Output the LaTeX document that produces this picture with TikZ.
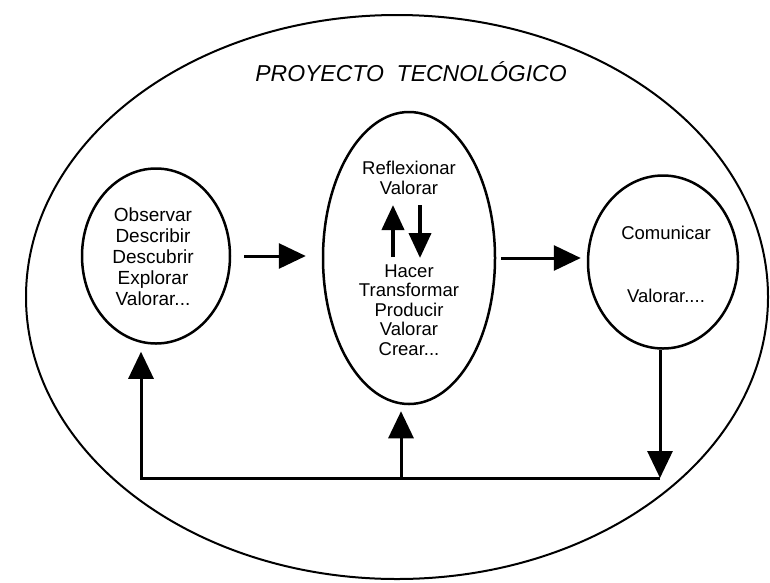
\documentclass[tikz,border=0pt]{standalone}
\usepackage{fontspec}
\setmainfont{Liberation Sans}
\usetikzlibrary{shapes.geometric,arrows.meta}
\begin{document}
\begin{tikzpicture}[x=1pt,y=-1pt,
  bubble/.style={draw, line width=2.5pt, ellipse, inner sep=0pt},
  frame/.style={draw, line width=2pt, ellipse, inner sep=0pt},
  words/.style={align=center, font=\fontsize{18.5}{21}\selectfont, inner sep=0pt},
  leftwords/.style={align=center, font=\fontsize{19}{21}\selectfont, inner sep=0pt},
  midwords/.style={align=center, font=\fontsize{18.5}{19.5}\selectfont, inner sep=0pt},
  title/.style={font=\fontsize{23}{27}\selectfont\itshape, inner sep=0pt},
  flow/.style={line width=3pt, line join=miter, -{Triangle[length=27pt,width=25pt]}},
  swap/.style={line width=4pt, -{Triangle[length=25pt,width=22pt]}},
  link/.style={line width=3pt}]
\useasboundingbox (0,0) rectangle (770,582);
\node[frame, minimum width=742pt, minimum height=564pt] (outer) at (397,297) {};
\node[title] (ttl) at (411,72) {PROYECTO\ \ TECNOLÓGICO};

% left
\node[bubble, minimum width=148pt, minimum height=175pt] (l) at (156,256) {};
\node[leftwords] (lt) at (153,257) {Observar\\Describir\\Descubrir\\Explorar\\Valorar...};

% middle
\node[bubble, minimum width=172pt, minimum height=292pt] (m) at (409,258) {};
\node[midwords] (mtop) at (409,178) {Reflexionar\\Valorar};
\node[midwords] (mbot) at (409,310) {Hacer\\Transformar\\Producir\\Valorar\\Crear...};
\coordinate (upfoot) at (393,257);
\coordinate (uptip) at (393,205);
\coordinate (dntop) at (420,205);
\coordinate (dntip) at (420,258);
\draw[swap] (upfoot) -- (uptip);
\draw[swap] (dntop) -- (dntip);

% right
\node[bubble, minimum width=150pt, minimum height=173pt] (r) at (663,262) {};
\node[words] (rt1) at (666,233) {Comunicar};
\node[words] (rt2) at (666,296) {Valorar....};

% forward arrows
\draw[flow, shorten <=13pt, shorten >=16pt] (l.east) -- (l.east -| m.west);
\draw[flow, shorten <=5pt, shorten >=6pt] (m.east) -- (m.east -| r.west);

% feedback loop
\coordinate (bl) at (141,478);
\coordinate (bm) at (401,478);
\coordinate (br) at (660,478);
\draw[flow, shorten >=7pt] (br) -- (bl) -- (l.south -| bl);
\draw[flow, shorten >=6pt] (bm) -- (m.south -| bm);
\draw[flow] (r.south -| br) -- (br);
\end{tikzpicture}
\end{document}
